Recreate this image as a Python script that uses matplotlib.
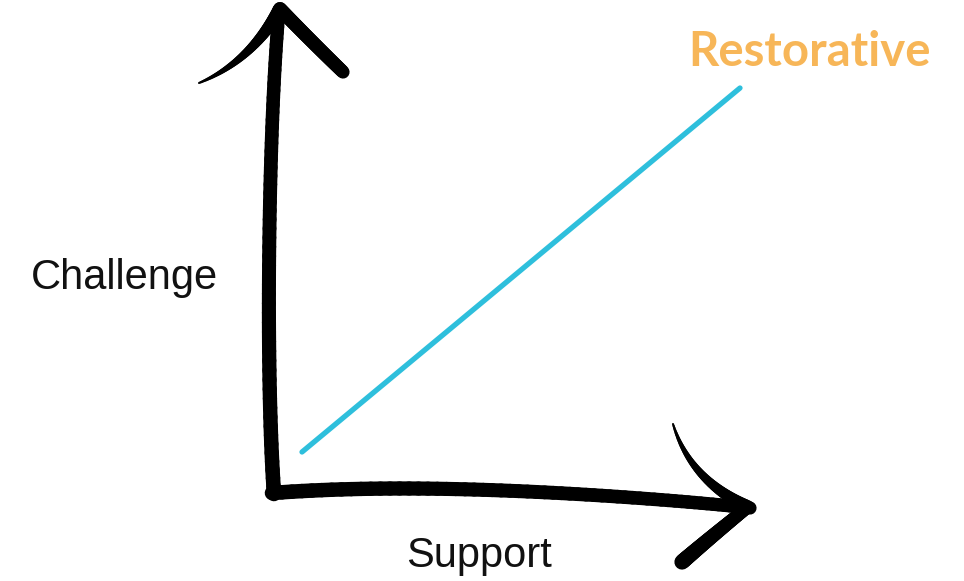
import matplotlib.pyplot as plt
import numpy as np

# strokes in pixel coordinates of the picture (y grows downward),
# each list is the control polygon of a smooth brush curve
y_axis_x = [274, 266, 268, 272, 279]
y_axis_y = [494, 380, 200, 90, 10]
x_axis_x = [272, 420, 560, 680, 750]
x_axis_y = [493, 482, 492, 500, 508]

up_left_x = [199, 250, 280]
up_left_y = [83, 62, 9]
up_right_x = [280, 312, 343]
up_right_y = [9, 42, 72]

right_top_x = [673, 690, 748]
right_top_y = [424, 480, 507]
right_bot_x = [748, 712, 682]
right_bot_y = [507, 536, 562]

# the diagonal "restorative" line
support = [302, 740]
challenge = [452, 88]

fig = plt.figure(figsize=(9.64, 5.81), dpi=100)
ax = fig.add_axes([0, 0, 1, 1])
ax.set_xlim(0, 964)
ax.set_ylim(581, 0)
ax.axis('off')


def bezier(xs, ys, n):
    pts = np.array([xs, ys], dtype=float).T
    out = []
    for t in np.linspace(0, 1, n):
        p = pts.copy()
        while len(p) > 1:
            p = (1 - t) * p[:-1] + t * p[1:]
        out.append(p[0])
    return np.array(out)


def stroke(xs, ys, w0, w1, n=60):
    # tapered brush stroke along a smooth curve
    p = bezier(xs, ys, n)
    widths = np.linspace(w0, w1, n - 1)
    for i in range(n - 1):
        ax.plot(p[i:i + 2, 0], p[i:i + 2, 1], color='black', lw=widths[i],
                solid_capstyle='round')


stroke(y_axis_x, y_axis_y, 10.5, 9.5)
stroke(x_axis_x, x_axis_y, 10.5, 9.5)
stroke(up_left_x, up_left_y, 1.5, 10)
stroke(up_right_x, up_right_y, 10, 9.5)
stroke(right_top_x, right_top_y, 1.5, 9.5)
stroke(right_bot_x, right_bot_y, 9, 11)

ax.plot(support, challenge, color='#2ebfdc', lw=3.8, solid_capstyle='round')

ax.text(809, 52, "Restorative", fontsize=34, color='#f7b658', ha='center',
        va='center', family='Lato', fontweight='bold')
ax.text(124, 278, "Challenge", fontsize=30, color='#111111', ha='center',
        va='center', family='Liberation Sans')
ax.text(479, 556, "Support", fontsize=30, color='#111111', ha='center',
        va='center', family='Liberation Sans')

plt.savefig("out.png", dpi=100)
